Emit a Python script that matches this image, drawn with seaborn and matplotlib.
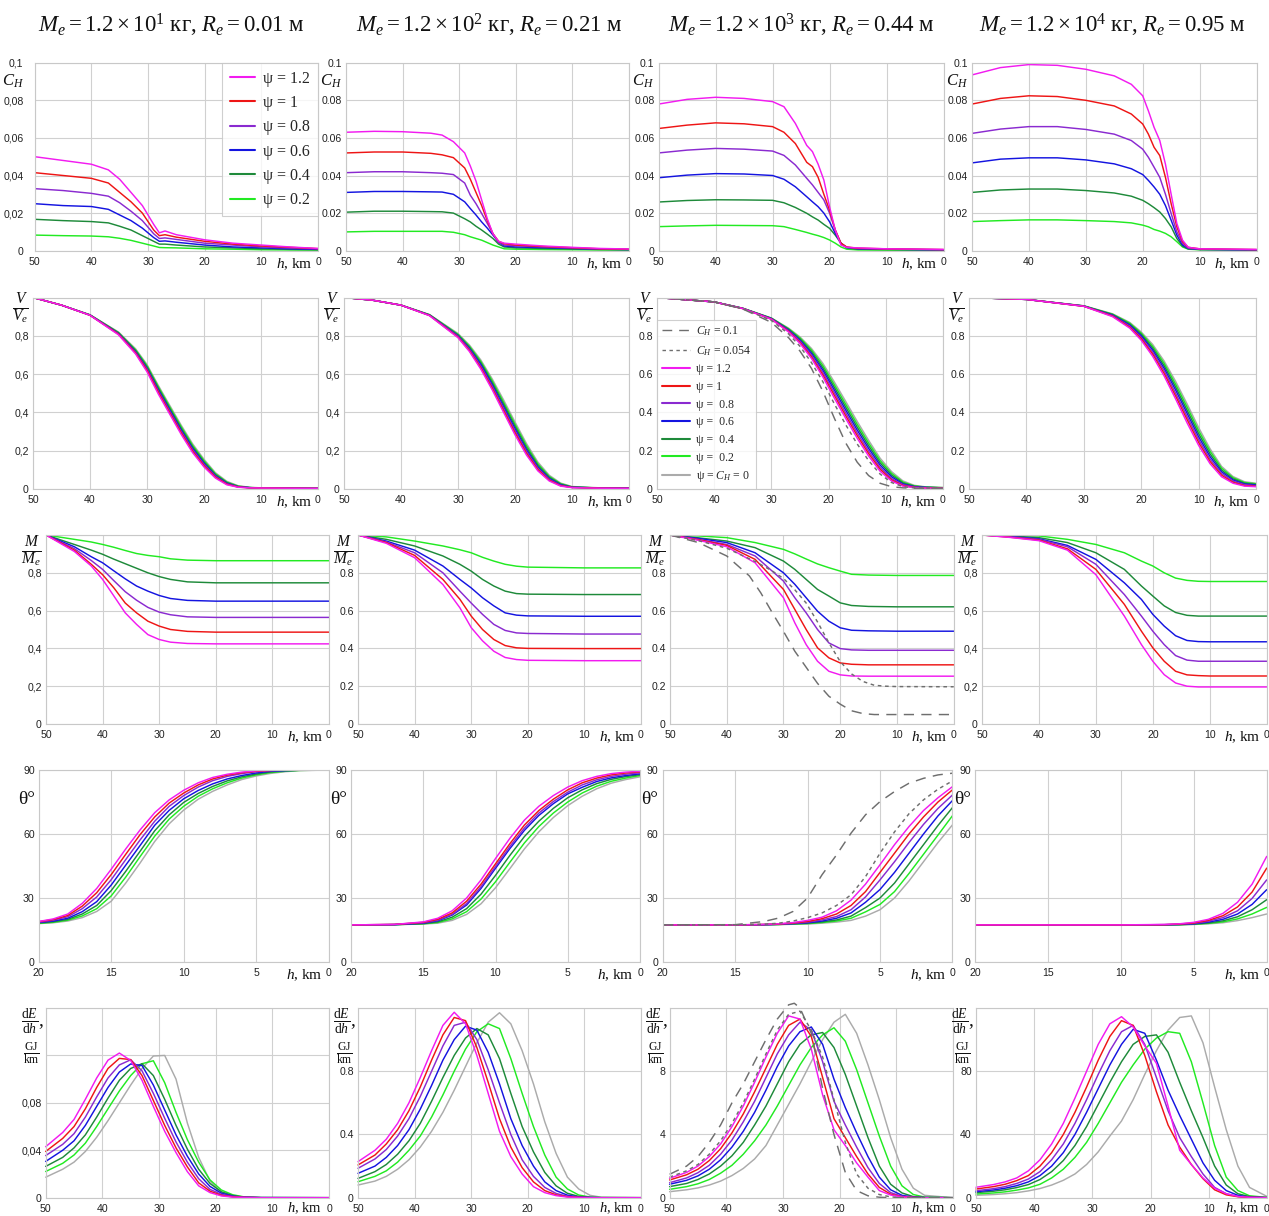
import numpy as np
import pandas as pd
import matplotlib
matplotlib.use("Agg")
import matplotlib.pyplot as plt
from matplotlib.lines import Line2D
import seaborn as sns

sns.set_theme(style="whitegrid")
plt.rcParams.update({
    "font.family": ["Liberation Sans", "DejaVu Sans"],
    "mathtext.fontset": "custom",
    "mathtext.rm": "Liberation Serif",
    "mathtext.it": "Liberation Serif:italic",
    "mathtext.bf": "Liberation Serif:bold",
    "figure.facecolor": "white",
    "axes.facecolor": "white",
})

# ---------------- DATA ----------------
CURVES = ["m", "r", "p", "b", "dg", "g"]          # psi = 1.2, 1, 0.8, 0.6, 0.4, 0.2
PSI_LABELS = ["1.2", "1", "0.8", "0.6", "0.4", "0.2"]
TITLE_MASS = ["1.2\\times10^{1}", "1.2\\times10^{2}", "1.2\\times10^{3}", "1.2\\times10^{4}"]
TITLE_R = ["0.01", "0.21", "0.44", "0.95"]

# Row 1: C_H
H_CH1 = [50, 45, 40, 37, 35, 33, 31, 29, 28, 27, 25, 20, 15, 10, 5, 0]
CH1 = [
    [0.050, 0.048, 0.046, 0.043, 0.038, 0.031, 0.024, 0.014, 0.0095, 0.0105, 0.0085, 0.0058, 0.004, 0.003, 0.002, 0.0012],
    [0.0415, 0.040, 0.0385, 0.036, 0.031, 0.026, 0.020, 0.011, 0.008, 0.0085, 0.0072, 0.005, 0.0035, 0.0025, 0.0018, 0.0011],
    [0.033, 0.032, 0.0305, 0.029, 0.0255, 0.021, 0.016, 0.009, 0.0065, 0.0068, 0.006, 0.004, 0.003, 0.002, 0.0014, 0.001],
    [0.025, 0.024, 0.0235, 0.022, 0.019, 0.016, 0.012, 0.007, 0.005, 0.0052, 0.0045, 0.003, 0.002, 0.0015, 0.001, 0.0007],
    [0.0167, 0.016, 0.0155, 0.0148, 0.013, 0.011, 0.008, 0.005, 0.0035, 0.0035, 0.003, 0.002, 0.0015, 0.001, 0.0007, 0.0005],
    [0.0083, 0.008, 0.0078, 0.0074, 0.0066, 0.0055, 0.004, 0.0025, 0.0017, 0.0016, 0.0015, 0.001, 0.0008, 0.0005, 0.0004, 0.0003],
]
H_CH2 = [50, 45, 40, 35, 33, 31, 29, 28, 27, 26, 25, 24, 23, 22, 20, 15, 10, 5, 0]
CH2 = [
    [0.063, 0.0635, 0.0633, 0.0625, 0.0615, 0.058, 0.052, 0.045, 0.037, 0.027, 0.017, 0.009, 0.005, 0.004, 0.0035, 0.0025, 0.0018, 0.0012, 0.0009],
    [0.052, 0.0525, 0.0525, 0.0518, 0.051, 0.0495, 0.044, 0.038, 0.031, 0.024, 0.016, 0.009, 0.005, 0.0037, 0.003, 0.0022, 0.0016, 0.001, 0.0008],
    [0.0415, 0.042, 0.042, 0.0415, 0.0412, 0.0405, 0.036, 0.0295, 0.025, 0.0198, 0.0145, 0.009, 0.0045, 0.003, 0.0026, 0.002, 0.0014, 0.0009, 0.0007],
    [0.031, 0.0315, 0.0315, 0.0313, 0.0312, 0.030, 0.026, 0.0224, 0.019, 0.0153, 0.012, 0.0083, 0.0045, 0.0025, 0.002, 0.0016, 0.0012, 0.0008, 0.0006],
    [0.0205, 0.021, 0.021, 0.0208, 0.0207, 0.020, 0.017, 0.0153, 0.013, 0.011, 0.0088, 0.0065, 0.0035, 0.002, 0.0015, 0.0012, 0.0009, 0.0006, 0.0005],
    [0.010, 0.0103, 0.0103, 0.0103, 0.0103, 0.0098, 0.0085, 0.0074, 0.0065, 0.0056, 0.0043, 0.003, 0.002, 0.001, 0.0008, 0.0006, 0.0005, 0.0004, 0.0003],
]
H_CH3 = [50, 45, 40, 35, 30, 28, 26, 24, 23, 22, 21, 20, 19, 18, 17, 15, 10, 0]
CH3 = [
    [0.078, 0.0805, 0.0816, 0.081, 0.0793, 0.0766, 0.0677, 0.056, 0.0527, 0.046, 0.0376, 0.0234, 0.011, 0.003, 0.0018, 0.0015, 0.001, 0.0007],
    [0.065, 0.0668, 0.068, 0.0675, 0.066, 0.063, 0.057, 0.047, 0.0447, 0.039, 0.030, 0.0216, 0.011, 0.004, 0.002, 0.0013, 0.001, 0.0006],
    [0.052, 0.0535, 0.0544, 0.054, 0.053, 0.0507, 0.0456, 0.0385, 0.035, 0.031, 0.027, 0.020, 0.011, 0.004, 0.0018, 0.0012, 0.0009, 0.0005],
    [0.0388, 0.0402, 0.041, 0.0408, 0.040, 0.038, 0.034, 0.0287, 0.026, 0.0234, 0.020, 0.0154, 0.0092, 0.004, 0.0017, 0.001, 0.0008, 0.0004],
    [0.0259, 0.0267, 0.0271, 0.027, 0.0268, 0.0255, 0.023, 0.0199, 0.018, 0.0163, 0.014, 0.0119, 0.0083, 0.004, 0.0015, 0.0008, 0.0006, 0.0003],
    [0.0128, 0.0132, 0.0135, 0.0134, 0.0133, 0.0128, 0.0113, 0.0097, 0.0088, 0.008, 0.007, 0.0057, 0.004, 0.002, 0.0008, 0.0004, 0.0003, 0.0002],
]
H_CH4 = [50, 45, 40, 35, 30, 25, 22, 20, 19, 18, 17, 16, 15, 14, 13, 12, 10, 0]
CH4 = [
    [0.0935, 0.0974, 0.099, 0.0986, 0.0965, 0.093, 0.0885, 0.0824, 0.0744, 0.0656, 0.0586, 0.046, 0.030, 0.0145, 0.0056, 0.0018, 0.001, 0.0007],
    [0.078, 0.081, 0.0824, 0.082, 0.080, 0.077, 0.0727, 0.0674, 0.062, 0.055, 0.0506, 0.039, 0.025, 0.0127, 0.0048, 0.0018, 0.001, 0.0006],
    [0.0624, 0.0647, 0.066, 0.066, 0.0645, 0.062, 0.0586, 0.054, 0.0497, 0.0444, 0.039, 0.030, 0.0198, 0.010, 0.0039, 0.0014, 0.0008, 0.0005],
    [0.0467, 0.0487, 0.0494, 0.0494, 0.0483, 0.0462, 0.0436, 0.0405, 0.0374, 0.0339, 0.030, 0.024, 0.0162, 0.0083, 0.003, 0.0012, 0.0007, 0.0004],
    [0.031, 0.0323, 0.0328, 0.0328, 0.032, 0.0307, 0.029, 0.0268, 0.025, 0.0229, 0.0206, 0.0171, 0.0127, 0.0065, 0.0025, 0.001, 0.0006, 0.0003],
    [0.0155, 0.016, 0.0164, 0.0164, 0.016, 0.0155, 0.0148, 0.0136, 0.0127, 0.0113, 0.0104, 0.0092, 0.0074, 0.0048, 0.002, 0.0008, 0.0005, 0.0003],
]

# Row 2: V/Ve  (psi curves + gray psi=0)
H_V1 = [50, 45, 40, 35, 32, 30, 28, 26, 24, 22, 20, 18, 16, 14, 12, 10, 5, 0]
V1 = [
    [1.0, 0.96, 0.907, 0.805, 0.705, 0.612, 0.495, 0.39, 0.285, 0.19, 0.115, 0.057, 0.022, 0.009, 0.006, 0.005, 0.004, 0.003],
    [1.0, 0.96, 0.907, 0.808, 0.71, 0.62, 0.505, 0.398, 0.294, 0.198, 0.122, 0.062, 0.025, 0.01, 0.006, 0.005, 0.004, 0.003],
    [1.0, 0.96, 0.908, 0.81, 0.713, 0.625, 0.51, 0.405, 0.3, 0.205, 0.128, 0.066, 0.027, 0.011, 0.007, 0.005, 0.004, 0.003],
    [1.0, 0.96, 0.908, 0.812, 0.717, 0.63, 0.517, 0.412, 0.308, 0.212, 0.134, 0.07, 0.03, 0.012, 0.007, 0.005, 0.004, 0.003],
    [1.0, 0.96, 0.909, 0.815, 0.722, 0.637, 0.525, 0.42, 0.316, 0.22, 0.141, 0.075, 0.033, 0.013, 0.007, 0.005, 0.004, 0.003],
    [1.0, 0.96, 0.909, 0.817, 0.727, 0.644, 0.533, 0.428, 0.325, 0.228, 0.148, 0.08, 0.036, 0.015, 0.008, 0.005, 0.004, 0.003],
    [1.0, 0.96, 0.91, 0.82, 0.732, 0.65, 0.54, 0.436, 0.333, 0.236, 0.155, 0.085, 0.04, 0.017, 0.009, 0.006, 0.004, 0.003],
]
H_V2 = [50, 45, 40, 35, 30, 28, 26, 24, 22, 20, 18, 16, 14, 12, 10, 5, 0]
V2 = [
    [1.0, 0.986, 0.96, 0.905, 0.79, 0.718, 0.626, 0.518, 0.4, 0.283, 0.178, 0.095, 0.042, 0.015, 0.007, 0.004, 0.003],
    [1.0, 0.986, 0.96, 0.906, 0.793, 0.723, 0.633, 0.527, 0.41, 0.294, 0.187, 0.102, 0.046, 0.017, 0.008, 0.004, 0.003],
    [1.0, 0.986, 0.96, 0.907, 0.797, 0.729, 0.641, 0.536, 0.42, 0.304, 0.196, 0.108, 0.05, 0.019, 0.008, 0.005, 0.004],
    [1.0, 0.986, 0.96, 0.908, 0.8, 0.734, 0.65, 0.545, 0.43, 0.315, 0.205, 0.115, 0.055, 0.022, 0.009, 0.005, 0.004],
    [1.0, 0.986, 0.96, 0.909, 0.804, 0.74, 0.658, 0.555, 0.442, 0.327, 0.216, 0.124, 0.061, 0.025, 0.01, 0.005, 0.004],
    [1.0, 0.986, 0.96, 0.91, 0.808, 0.746, 0.666, 0.565, 0.453, 0.338, 0.227, 0.132, 0.066, 0.028, 0.011, 0.005, 0.004],
    [1.0, 0.986, 0.961, 0.911, 0.812, 0.752, 0.674, 0.575, 0.465, 0.35, 0.238, 0.141, 0.072, 0.031, 0.013, 0.006, 0.005],
]
H_V3 = [50, 40, 35, 30, 27, 25, 23, 21, 19, 17, 15, 13, 11, 9, 7, 5, 3, 0]
V3 = [
    [1.0, 0.977, 0.942, 0.886, 0.82, 0.76, 0.682, 0.585, 0.475, 0.368, 0.265, 0.172, 0.093, 0.042, 0.015, 0.007, 0.005, 0.004],
    [1.0, 0.977, 0.942, 0.887, 0.823, 0.765, 0.69, 0.596, 0.489, 0.382, 0.279, 0.185, 0.103, 0.048, 0.018, 0.008, 0.006, 0.005],
    [1.0, 0.977, 0.943, 0.888, 0.826, 0.771, 0.699, 0.608, 0.503, 0.397, 0.293, 0.198, 0.113, 0.055, 0.022, 0.01, 0.007, 0.005],
    [1.0, 0.977, 0.943, 0.89, 0.83, 0.777, 0.708, 0.62, 0.517, 0.412, 0.308, 0.212, 0.125, 0.064, 0.026, 0.012, 0.008, 0.006],
    [1.0, 0.977, 0.943, 0.891, 0.834, 0.783, 0.717, 0.632, 0.531, 0.427, 0.323, 0.226, 0.137, 0.073, 0.031, 0.014, 0.009, 0.006],
    [1.0, 0.977, 0.944, 0.892, 0.837, 0.789, 0.726, 0.644, 0.545, 0.442, 0.338, 0.24, 0.149, 0.082, 0.036, 0.016, 0.01, 0.007],
    [1.0, 0.977, 0.944, 0.893, 0.84, 0.794, 0.734, 0.656, 0.559, 0.457, 0.353, 0.254, 0.161, 0.091, 0.042, 0.019, 0.011, 0.008],
]
V3_CH01 = [1.0, 0.977, 0.94, 0.87, 0.79, 0.72, 0.63, 0.51, 0.37, 0.24, 0.14, 0.07, 0.03, 0.012, 0.006, 0.004, 0.004, 0.004]
V3_CH054 = [1.0, 0.977, 0.941, 0.88, 0.81, 0.745, 0.66, 0.56, 0.445, 0.335, 0.235, 0.148, 0.078, 0.034, 0.012, 0.006, 0.005, 0.004]
H_V4 = [50, 40, 30, 25, 22, 20, 18, 16, 14, 12, 10, 8, 6, 4, 2, 0]
V4 = [
    [1.0, 0.99, 0.954, 0.9, 0.84, 0.777, 0.693, 0.59, 0.47, 0.345, 0.228, 0.132, 0.064, 0.03, 0.015, 0.012],
    [1.0, 0.99, 0.954, 0.903, 0.845, 0.785, 0.704, 0.603, 0.485, 0.362, 0.243, 0.144, 0.072, 0.035, 0.018, 0.014],
    [1.0, 0.99, 0.955, 0.905, 0.85, 0.792, 0.714, 0.617, 0.5, 0.378, 0.258, 0.156, 0.081, 0.041, 0.022, 0.017],
    [1.0, 0.99, 0.955, 0.908, 0.856, 0.8, 0.725, 0.63, 0.517, 0.395, 0.273, 0.169, 0.09, 0.047, 0.026, 0.021],
    [1.0, 0.99, 0.956, 0.911, 0.861, 0.807, 0.735, 0.643, 0.532, 0.411, 0.289, 0.183, 0.099, 0.053, 0.03, 0.024],
    [1.0, 0.99, 0.956, 0.913, 0.866, 0.814, 0.745, 0.656, 0.547, 0.428, 0.305, 0.197, 0.109, 0.059, 0.034, 0.027],
    [1.0, 0.99, 0.957, 0.915, 0.87, 0.82, 0.755, 0.668, 0.562, 0.444, 0.321, 0.21, 0.118, 0.065, 0.038, 0.03],
]

# Row 3: M/Me
H_M1 = [50, 45, 42, 40, 38, 36, 34, 32, 30, 28, 25, 20, 10, 0]
M1 = [
    [1, 0.913, 0.836, 0.765, 0.677, 0.588, 0.527, 0.473, 0.447, 0.433, 0.426, 0.424, 0.424, 0.424],
    [1, 0.92, 0.845, 0.79, 0.72, 0.64, 0.588, 0.544, 0.518, 0.5, 0.49, 0.486, 0.486, 0.486],
    [1, 0.928, 0.865, 0.818, 0.758, 0.7, 0.655, 0.617, 0.592, 0.578, 0.567, 0.564, 0.564, 0.564],
    [1, 0.938, 0.885, 0.853, 0.81, 0.768, 0.73, 0.703, 0.68, 0.664, 0.654, 0.65, 0.65, 0.65],
    [1, 0.95, 0.92, 0.898, 0.872, 0.848, 0.824, 0.8, 0.78, 0.765, 0.752, 0.747, 0.747, 0.747],
    [1, 0.977, 0.963, 0.95, 0.935, 0.918, 0.902, 0.892, 0.885, 0.874, 0.867, 0.864, 0.864, 0.864],
]
H_M2 = [50, 45, 40, 35, 32, 30, 28, 26, 24, 22, 20, 10, 0]
M2 = [
    [1, 0.956, 0.88, 0.738, 0.615, 0.51, 0.44, 0.385, 0.352, 0.341, 0.337, 0.335, 0.335],
    [1, 0.96, 0.892, 0.765, 0.66, 0.571, 0.5, 0.447, 0.415, 0.403, 0.4, 0.399, 0.399],
    [1, 0.963, 0.906, 0.8, 0.703, 0.64, 0.58, 0.527, 0.495, 0.482, 0.479, 0.476, 0.476],
    [1, 0.968, 0.92, 0.836, 0.765, 0.72, 0.668, 0.625, 0.588, 0.576, 0.572, 0.57, 0.57],
    [1, 0.977, 0.942, 0.889, 0.845, 0.809, 0.765, 0.73, 0.703, 0.69, 0.687, 0.685, 0.685],
    [1, 0.99, 0.968, 0.942, 0.922, 0.906, 0.882, 0.862, 0.845, 0.835, 0.83, 0.826, 0.826],
]
H_M3 = [50, 45, 40, 35, 30, 28, 26, 24, 22, 20, 18, 15, 10, 0]
M3 = [
    [1, 0.972, 0.938, 0.853, 0.668, 0.535, 0.42, 0.332, 0.279, 0.26, 0.254, 0.253, 0.253, 0.253],
    [1, 0.975, 0.945, 0.871, 0.712, 0.606, 0.5, 0.403, 0.35, 0.323, 0.316, 0.313, 0.313, 0.313],
    [1, 0.977, 0.95, 0.889, 0.756, 0.668, 0.588, 0.5, 0.429, 0.399, 0.392, 0.39, 0.39, 0.39],
    [1, 0.982, 0.96, 0.906, 0.8, 0.739, 0.668, 0.597, 0.544, 0.509, 0.496, 0.493, 0.491, 0.491],
    [1, 0.985, 0.968, 0.933, 0.862, 0.818, 0.765, 0.712, 0.677, 0.641, 0.627, 0.622, 0.62, 0.62],
    [1, 0.995, 0.986, 0.96, 0.924, 0.9, 0.873, 0.847, 0.827, 0.809, 0.792, 0.788, 0.786, 0.786],
]
H_M3_CH054 = [50, 45, 40, 35, 32, 30, 28, 26, 24, 22, 20, 18, 16, 14, 12, 10, 0]
M3_CH054 = [1, 0.97, 0.93, 0.86, 0.81, 0.77, 0.71, 0.64, 0.54, 0.43, 0.33, 0.265, 0.225, 0.205, 0.2, 0.198, 0.197]
H_M3_CH01 = [50, 45, 40, 36, 34, 32, 30, 28, 26, 24, 22, 20, 18, 16, 14, 10, 0]
M3_CH01 = [1, 0.96, 0.889, 0.783, 0.694, 0.59, 0.49, 0.385, 0.3, 0.215, 0.147, 0.105, 0.07, 0.055, 0.05, 0.05, 0.05]
H_M4 = [50, 45, 40, 35, 30, 25, 22, 20, 18, 16, 14, 12, 10, 0]
M4 = [
    [1, 0.987, 0.97, 0.92, 0.79, 0.571, 0.42, 0.332, 0.261, 0.217, 0.2, 0.196, 0.196, 0.196],
    [1, 0.988, 0.973, 0.927, 0.818, 0.633, 0.491, 0.403, 0.332, 0.279, 0.26, 0.256, 0.254, 0.254],
    [1, 0.99, 0.977, 0.938, 0.845, 0.685, 0.571, 0.491, 0.42, 0.362, 0.338, 0.332, 0.332, 0.332],
    [1, 0.992, 0.98, 0.945, 0.871, 0.747, 0.659, 0.58, 0.518, 0.467, 0.442, 0.436, 0.435, 0.435],
    [1, 0.995, 0.986, 0.96, 0.906, 0.818, 0.73, 0.677, 0.625, 0.59, 0.575, 0.571, 0.571, 0.571],
    [1, 0.999, 0.995, 0.977, 0.95, 0.906, 0.862, 0.836, 0.8, 0.772, 0.76, 0.755, 0.754, 0.754],
]

# Row 4: theta (deg), h 20..0
H_T1 = [20, 19, 18, 17, 16, 15, 14, 13, 12, 11, 10, 9, 8, 7, 6, 5, 4, 3, 2, 0]
T1 = [
    [19.0, 20.2, 22.5, 27.5, 34.5, 43.5, 53, 62, 70, 76, 80.5, 84, 86.5, 88, 89, 89.6, 89.9, 90, 90, 90],
    [18.9, 19.9, 21.8, 26.2, 32.5, 41, 50.5, 59.8, 68, 74.5, 79.2, 83, 85.8, 87.6, 88.7, 89.4, 89.8, 90, 90, 90],
    [18.7, 19.6, 21.2, 25, 30.5, 38.6, 48, 57.3, 66, 73, 78, 82, 85, 87, 88.3, 89.2, 89.7, 89.9, 90, 90],
    [18.5, 19.2, 20.5, 23.6, 28.3, 36.1, 45.4, 54.7, 64.1, 71.1, 76.5, 80.4, 83.5, 85.8, 87.4, 88.6, 89.4, 89.7, 89.9, 90],
    [18.3, 18.9, 20, 22.5, 26.5, 33.5, 42.5, 52, 61.5, 69, 74.8, 79, 82.3, 84.9, 86.8, 88.1, 89.1, 89.6, 89.9, 90],
    [18.1, 18.6, 19.6, 21.6, 25, 31, 39.8, 49.5, 59, 67, 73, 77.7, 81.2, 84, 86.2, 87.7, 88.8, 89.4, 89.8, 90],
    [18, 18.4, 19.2, 20.8, 23.7, 28.5, 37, 46.5, 56.5, 64.8, 71.2, 76.3, 80, 83, 85.5, 87.2, 88.4, 89.2, 89.7, 90],
]
H_T2 = [20, 17, 15, 14, 13, 12, 11, 10, 9, 8, 7, 6, 5, 4, 3, 2, 1, 0]
T2 = [
    [17.4, 17.6, 18.8, 20.5, 24, 30, 38.5, 48.5, 58, 66.5, 73, 78, 82, 85, 87, 88.3, 89, 89.4],
    [17.4, 17.6, 18.6, 20, 23, 28.5, 36.5, 46, 55.5, 64.2, 71, 76.3, 80.7, 84, 86.2, 87.7, 88.6, 89.1],
    [17.4, 17.6, 18.4, 19.6, 22.3, 27.4, 35.3, 44.8, 54.2, 62.8, 69.8, 75.2, 79.6, 83, 85.4, 87, 88, 88.7],
    [17.4, 17.5, 18.2, 19.3, 22, 26.7, 34.5, 43.9, 53.2, 61.7, 68.7, 74.2, 78.8, 81.9, 84.6, 86.3, 87.4, 88.2],
    [17.4, 17.5, 18, 18.8, 21, 25, 31.8, 40.6, 50, 58.8, 66, 72, 77, 80.7, 83.6, 85.6, 86.9, 87.8],
    [17.4, 17.5, 17.9, 18.5, 20.2, 23.6, 29.5, 37.6, 46.8, 55.8, 63.5, 69.8, 75, 79.2, 82.4, 84.7, 86.2, 87.4],
    [17.4, 17.5, 17.8, 18.2, 19.5, 22.3, 27.3, 34.8, 43.8, 53, 61, 67.7, 73.3, 77.7, 81.2, 83.8, 85.5, 86.8],
]
H_T3 = [20, 15, 13, 12, 11, 10, 9, 8, 7, 6, 5, 4, 3, 2, 1, 0]
T3 = [
    [17.4, 17.4, 17.6, 17.9, 18.5, 19.5, 21, 24, 29, 36.5, 45.6, 55, 63.5, 71, 77, 82.2],
    [17.4, 17.4, 17.6, 17.8, 18.3, 19, 20.3, 22.5, 26.5, 33, 42, 51, 60, 68, 75, 80.7],
    [17.4, 17.4, 17.5, 17.7, 18.1, 18.7, 19.7, 21.3, 24.5, 30.5, 38.5, 47, 56, 64.5, 72, 78.3],
    [17.4, 17.4, 17.5, 17.7, 18, 18.4, 19.2, 20.5, 23, 28, 34, 42, 51, 60, 68.5, 75.7],
    [17.4, 17.4, 17.5, 17.6, 17.9, 18.2, 18.8, 19.7, 21.5, 25.5, 30, 37, 46, 55, 64, 72.4],
    [17.4, 17.4, 17.5, 17.6, 17.8, 18, 18.5, 19.2, 20.5, 23.5, 27, 33, 41.5, 50.5, 59.5, 68.6],
    [17.4, 17.4, 17.4, 17.5, 17.7, 17.8, 18.2, 18.7, 19.5, 21.5, 24.5, 30, 38, 47, 56, 64.3],
]
T3_CH01 = [17.4, 17.5, 19, 20.6, 23.7, 30, 40.9, 50.2, 60.4, 69, 75.2, 79.9, 83.8, 86.1, 87.7, 88.5]
T3_CH054 = [17.4, 17.4, 17.7, 18.2, 19.2, 20.8, 23, 26.5, 31.5, 40, 51, 61, 69.5, 76, 81, 84.9]
H_T4 = [20, 10, 7, 6, 5, 4, 3, 2, 1, 0]
T4 = [
    [17.4, 17.4, 17.6, 17.9, 18.6, 20, 22.8, 28, 36.5, 49.5],
    [17.4, 17.4, 17.5, 17.8, 18.3, 19.5, 21.7, 25.8, 32.8, 44],
    [17.4, 17.4, 17.5, 17.7, 18.1, 19.1, 20.8, 24, 29.8, 38.5],
    [17.4, 17.4, 17.5, 17.6, 17.9, 18.7, 20, 22.5, 27, 33.9],
    [17.4, 17.4, 17.4, 17.5, 17.8, 18.3, 19.3, 21.2, 24.5, 29.2],
    [17.4, 17.4, 17.4, 17.5, 17.7, 18.1, 18.8, 20.2, 22.5, 25.6],
    [17.3, 17.2, 17.3, 17.4, 17.6, 17.9, 18.4, 19.4, 20.8, 22.5],
]

# Row 5: dE/dh
H_E1 = [50, 47, 45, 43, 41, 39, 37, 35, 33, 31, 29, 27, 25, 23, 21, 19, 17, 15, 12, 0]
E1 = [
    [0.043, 0.055, 0.066, 0.083, 0.101, 0.116, 0.122, 0.1157, 0.099, 0.077, 0.056, 0.038, 0.022, 0.01, 0.0043, 0.0015, 0.0005, 0.0002, 0, 0],
    [0.039, 0.05, 0.06, 0.075, 0.093, 0.109, 0.1175, 0.1165, 0.103, 0.082, 0.061, 0.042, 0.026, 0.0125, 0.0055, 0.002, 0.0007, 0.0002, 0, 0],
    [0.0355, 0.045, 0.054, 0.068, 0.085, 0.101, 0.112, 0.1163, 0.107, 0.088, 0.067, 0.047, 0.03, 0.016, 0.007, 0.0028, 0.001, 0.0003, 0, 0],
    [0.0306, 0.04, 0.048, 0.061, 0.077, 0.093, 0.106, 0.1128, 0.1115, 0.095, 0.074, 0.053, 0.035, 0.02, 0.0095, 0.0038, 0.0013, 0.0004, 0.0001, 0],
    [0.0264, 0.034, 0.042, 0.053, 0.068, 0.084, 0.099, 0.109, 0.113, 0.103, 0.083, 0.061, 0.041, 0.024, 0.012, 0.005, 0.0018, 0.0005, 0.0001, 0],
    [0.0221, 0.029, 0.036, 0.046, 0.06, 0.075, 0.09, 0.103, 0.113, 0.1155, 0.097, 0.072, 0.049, 0.03, 0.015, 0.0065, 0.0025, 0.0007, 0.0001, 0],
    [0.0173, 0.024, 0.03, 0.039, 0.051, 0.065, 0.08, 0.095, 0.109, 0.1195, 0.12, 0.1, 0.063, 0.034, 0.014, 0.0045, 0.0012, 0.0003, 0, 0],
]
H_E2 = [50, 47, 45, 43, 41, 39, 37, 35, 33, 31, 29, 27, 25, 23, 21, 19, 17, 15, 13, 11, 9, 7, 0]
E2 = [
    [0.228, 0.3, 0.37, 0.47, 0.6, 0.76, 0.93, 1.09, 1.173, 1.1, 0.9, 0.66, 0.42, 0.26, 0.15, 0.07, 0.032, 0.013, 0.004, 0.001, 0, 0, 0],
    [0.207, 0.27, 0.34, 0.43, 0.55, 0.7, 0.87, 1.03, 1.14, 1.12, 0.95, 0.73, 0.5, 0.32, 0.19, 0.1, 0.045, 0.018, 0.006, 0.002, 0, 0, 0],
    [0.186, 0.245, 0.305, 0.39, 0.5, 0.64, 0.8, 0.96, 1.09, 1.11, 1.0, 0.81, 0.6, 0.4, 0.24, 0.135, 0.065, 0.027, 0.009, 0.003, 0.001, 0, 0],
    [0.154, 0.2, 0.255, 0.33, 0.43, 0.56, 0.71, 0.87, 1.0, 1.085, 1.06, 0.92, 0.72, 0.5, 0.33, 0.2, 0.1, 0.045, 0.016, 0.005, 0.001, 0, 0],
    [0.122, 0.165, 0.21, 0.275, 0.36, 0.47, 0.61, 0.76, 0.9, 1.01, 1.07, 1.03, 0.88, 0.66, 0.45, 0.29, 0.16, 0.075, 0.028, 0.008, 0.002, 0, 0],
    [0.101, 0.135, 0.17, 0.225, 0.3, 0.39, 0.51, 0.65, 0.8, 0.94, 1.05, 1.1, 1.07, 0.88, 0.66, 0.45, 0.27, 0.13, 0.055, 0.017, 0.004, 0.001, 0],
    [0.08, 0.105, 0.135, 0.18, 0.24, 0.32, 0.42, 0.54, 0.68, 0.83, 0.98, 1.11, 1.17, 1.1, 0.93, 0.72, 0.48, 0.28, 0.13, 0.055, 0.015, 0.003, 0],
]
H_E3 = [50, 47, 45, 43, 41, 39, 37, 35, 33, 31, 29, 27, 25, 23, 21, 19, 17, 15, 13, 11, 9, 7, 5, 0]
E3 = [
    [1.23, 1.6, 2.0, 2.6, 3.4, 4.5, 5.8, 7.3, 8.9, 10.4, 11.5, 11.3, 9.4, 6.5, 4.3, 3.3, 2.2, 1.3, 0.45, 0.17, 0.05, 0.01, 0, 0],
    [1.12, 1.45, 1.8, 2.35, 3.1, 4.1, 5.3, 6.7, 8.2, 9.7, 10.9, 11.3, 10.2, 7.6, 5.0, 3.8, 2.6, 1.5, 0.65, 0.22, 0.06, 0.015, 0, 0],
    [0.95, 1.25, 1.58, 2.05, 2.75, 3.65, 4.8, 6.1, 7.6, 9.1, 10.3, 11.1, 10.6, 8.6, 6.1, 4.6, 3.2, 1.9, 0.9, 0.32, 0.09, 0.02, 0, 0],
    [0.85, 1.1, 1.38, 1.8, 2.4, 3.2, 4.2, 5.4, 6.8, 8.3, 9.6, 10.5, 10.8, 9.7, 7.5, 5.7, 4.1, 2.6, 1.3, 0.5, 0.15, 0.04, 0.01, 0],
    [0.7, 0.9, 1.15, 1.5, 2.0, 2.65, 3.5, 4.6, 5.8, 7.2, 8.6, 9.7, 10.3, 10.45, 9.5, 7.8, 5.8, 3.8, 2.0, 0.85, 0.3, 0.07, 0.01, 0],
    [0.53, 0.7, 0.88, 1.15, 1.55, 2.05, 2.75, 3.6, 4.6, 5.8, 7.1, 8.4, 9.5, 10.3, 10.75, 9.9, 8.1, 6.0, 3.9, 2.0, 0.75, 0.2, 0.04, 0],
    [0.38, 0.5, 0.62, 0.8, 1.05, 1.4, 1.85, 2.45, 3.3, 4.6, 5.9, 7.2, 8.6, 10.0, 11.1, 11.6, 10.4, 8.4, 6.2, 3.8, 1.8, 0.6, 0.15, 0],
]
H_E3_CH01 = [50, 47, 45, 43, 41, 39, 37, 35, 33, 31, 29, 28, 27, 25, 23, 21, 19, 17, 15, 13, 11, 0]
E3_CH01 = [1.48, 2.0, 2.6, 3.5, 4.6, 6.0, 7.2, 8.6, 10.0, 11.3, 12.2, 12.3, 12.0, 10.4, 6.9, 4.0, 1.6, 0.45, 0.12, 0.03, 0, 0]
H_E3_CH054 = [50, 47, 45, 43, 41, 39, 37, 35, 33, 31, 29, 27, 25, 23, 21, 19, 17, 15, 13, 11, 9, 0]
E3_CH054 = [1.3, 1.7, 2.1, 2.75, 3.6, 4.7, 6.0, 7.5, 9.1, 10.6, 11.6, 11.8, 10.6, 8.9, 6.2, 3.5, 1.5, 0.6, 0.2, 0.05, 0.01, 0]
H_E4 = [50, 47, 45, 43, 41, 39, 37, 35, 33, 31, 29, 27, 25, 23, 21, 19, 17, 15, 13, 11, 9, 7, 5, 3, 0]
E4 = [
    [6.6, 8.3, 10, 12.5, 17, 24, 34, 47, 63, 80, 97, 110, 114.5, 108, 96, 85, 58, 30, 21, 12.5, 6, 2.5, 0.8, 0.2, 0],
    [5.5, 7, 8.5, 10.8, 14, 20, 28.5, 40, 54, 70, 87, 102, 112, 109, 90, 67, 46, 32, 21, 12, 5, 1.8, 0.6, 0.2, 0],
    [4.4, 5.7, 7, 9, 11.8, 16.5, 24, 34, 47, 62, 78, 93, 105, 109, 97, 76, 55, 38, 26, 15, 6.5, 2.5, 0.8, 0.2, 0],
    [3.8, 4.9, 6, 7.6, 10, 14, 20, 28.5, 40, 54, 69, 84, 97, 106.5, 104, 87, 68, 52, 37, 22, 11, 4.5, 1.5, 0.4, 0],
    [3.2, 4.1, 5, 6.4, 8.3, 11.5, 16.5, 23.5, 33, 45, 59, 73, 86, 97, 102, 103, 92, 73, 55, 38, 20, 8, 2.5, 0.7, 0.1],
    [2.3, 3, 3.7, 4.8, 6.2, 8.5, 12.5, 18, 25.5, 35, 47, 60, 73, 84, 94, 101, 105, 104, 86, 60, 33, 13, 4.5, 1.2, 0.2],
    [1.5, 2, 2.5, 3.2, 4.3, 5.8, 8, 11, 15, 21, 29, 39, 48.5, 62, 78, 93, 106, 114, 115, 98, 70, 43, 20, 6.5, 0.8],
]

# ---------------- STYLE ----------------
COL = {"m": "#f21bf0", "r": "#ee1515", "p": "#8a2ad0", "b": "#1414e0", "dg": "#1e8a3a",
       "g": "#22ea22", "gr": "#ababab", "d1": "#6e6e6e", "d2": "#6e6e6e"}
DASH = {"m": "", "r": "", "p": "", "b": "", "dg": "", "g": "", "gr": "",
        "d1": (7, 5), "d2": (2.5, 2.5)}
SERIF = "Liberation Serif"
W, Hpx = 1269, 1216

fig = plt.figure(figsize=(W / 100, Hpx / 100), dpi=100)

ROWS_Y = [(62.7, 250.7), (297.5, 489), (535, 724), (770, 962), (1008, 1197.7)]
COLS_X = [
    [(34.7, 318), (346, 628.6), (658.6, 943.5), (972, 1256.5)],
    [(33, 318), (344, 629), (657, 943), (969, 1256)],
    [(46, 329), (358, 641), (670, 953.7), (982, 1266.7)],
    [(38.8, 328.6), (351, 640), (662.6, 952.5), (975, 1266.7)],
    [(45.7, 329), (358, 641), (669.6, 953), (976, 1267)],
]


def make_ax(r, c):
    x0, x1 = COLS_X[r][c]
    y0, y1 = ROWS_Y[r]
    return fig.add_axes([x0 / W, 1 - y1 / Hpx, (x1 - x0) / W, (y1 - y0) / Hpx])


def draw(ax, series):
    rows = []
    for name, hs, vs in series:
        assert len(hs) == len(vs), (name, len(hs), len(vs))
        for hh, vv in zip(hs, vs):
            rows.append((name, hh, vv))
    df = pd.DataFrame(rows, columns=["curve", "h", "v"])
    names = [s[0] for s in series]
    sns.lineplot(data=df, x="h", y="v", hue="curve", style="curve",
                 hue_order=names, style_order=names,
                 palette={n: COL[n] for n in names},
                 dashes={n: DASH[n] for n in names},
                 sort=False, estimator=None, legend=False, linewidth=1.05, ax=ax)


def style(ax, xlim, xt, ylim, yt, ylabels, ypad=3, hy=-0.028, hsize=11):
    ax.set_xlim(*xlim)
    ax.set_ylim(*ylim)
    ax.set_xticks(xt)
    ax.set_xticklabels([str(v) for v in xt])
    ax.set_yticks(yt)
    ax.set_yticklabels(ylabels)
    ax.set_xlabel("")
    ax.set_ylabel("")
    ax.tick_params(axis="both", length=0, labelsize=7.6, colors="#222222")
    ax.tick_params(axis="x", pad=4.5)
    ax.tick_params(axis="y", pad=ypad)
    ax.grid(True, color="#d0d0d0", linewidth=0.8)
    for sp in ax.spines.values():
        sp.set_color("#c8c8c8")
        sp.set_linewidth(0.8)
    ax.text(0.915, hy, r"$h$, km", transform=ax.transAxes, ha="center", va="top",
            family=SERIF, fontsize=hsize, color="#111111")


def ylab(ax, text, yfrac, size=11, dx=-3):
    ax.annotate(text, xy=(0, yfrac), xycoords="axes fraction", xytext=(dx, 0),
                textcoords="offset points", ha="right", va="center",
                family=SERIF, fontsize=size, color="#111111", annotation_clip=False)


def fmt(vals, comma, top_blank=False):
    out = []
    for v in vals:
        s = ("%g" % v)
        if comma:
            s = s.replace(".", ",")
        out.append(s)
    if top_blank:
        out[-1] = ""
    return out


def psi_series(H, Y):
    return [(n, H, y) for n, y in zip(CURVES + ["gr"], Y)]


# ---- Row 1
CH_DATA = [(H_CH1, CH1), (H_CH2, CH2), (H_CH3, CH3), (H_CH4, CH4)]
for c, (H, Y) in enumerate(CH_DATA):
    ax = make_ax(0, c)
    series = [(n, H, y) for n, y in zip(CURVES, Y)][::-1]
    draw(ax, series)
    yt = [0, 0.02, 0.04, 0.06, 0.08, 0.1]
    style(ax, (50, 0), [50, 40, 30, 20, 10, 0], (0, 0.1), yt, fmt(yt, c == 0),
          ypad=8 if c == 0 else 3)
    ylab(ax, r"$C_H$", 0.903, 12, dx=-8 if c == 0 else -3)
    if c == 0:
        handles = [Line2D([], [], color=COL[n], lw=1.5) for n in CURVES]
        labels = ["ψ = " + s for s in PSI_LABELS]
        lg = ax.legend(handles, labels, loc="upper right", bbox_to_anchor=(1, 1),
                       borderaxespad=0, frameon=True, fancybox=False,
                       prop={"family": SERIF, "size": 11.5}, handlelength=1.6,
                       handletextpad=0.5, labelspacing=0.52, borderpad=0.5)
        lg.get_frame().set_edgecolor("#c4c4c4")
        lg.get_frame().set_linewidth(0.8)

# ---- Row 2
V_DATA = [(H_V1, V1), (H_V2, V2), (H_V3, V3), (H_V4, V4)]
for c, (H, Y) in enumerate(V_DATA):
    ax = make_ax(1, c)
    series = psi_series(H, Y)[::-1]
    if c == 2:
        series = series + [("d2", H, V3_CH054), ("d1", H, V3_CH01)]
    draw(ax, series)
    yt = [0, 0.2, 0.4, 0.6, 0.8, 1.0]
    style(ax, (50, 0), [50, 40, 30, 20, 10, 0], (0, 1.0), yt, fmt(yt, c < 2, True))
    ylab(ax, r"$\frac{V}{V_e}$", 0.935, 16)
    if c == 2:
        handles = [Line2D([], [], color=COL["d1"], lw=1.0, dashes=(7, 5)),
                   Line2D([], [], color=COL["d2"], lw=1.0, dashes=(2.5, 2.5))]
        handles += [Line2D([], [], color=COL[n], lw=1.5) for n in CURVES + ["gr"]]
        labels = [r"$C_H$ = 0.1", r"$C_H$ = 0.054", "ψ = 1.2", "ψ = 1", "ψ =  0.8",
                  "ψ =  0.6", "ψ =  0.4", "ψ =  0.2", r"ψ = $C_H$ = 0"]
        lg = ax.legend(handles, labels, loc="lower left", bbox_to_anchor=(0, 0),
                       borderaxespad=0, frameon=True, fancybox=False,
                       prop={"family": SERIF, "size": 8.5}, handlelength=2.4,
                       handletextpad=0.5, labelspacing=0.48, borderpad=0.4)
        lg.get_frame().set_edgecolor("#c4c4c4")
        lg.get_frame().set_linewidth(0.8)

# ---- Row 3
M_DATA = [(H_M1, M1), (H_M2, M2), (H_M3, M3), (H_M4, M4)]
for c, (H, Y) in enumerate(M_DATA):
    ax = make_ax(2, c)
    series = [(n, H, y) for n, y in zip(CURVES, Y)][::-1]
    if c == 2:
        series = series + [("d2", H_M3_CH054, M3_CH054), ("d1", H_M3_CH01, M3_CH01)]
    draw(ax, series)
    yt = [0, 0.2, 0.4, 0.6, 0.8, 1.0]
    style(ax, (50, 0), [50, 40, 30, 20, 10, 0], (0, 1.0), yt, fmt(yt, c in (0, 3), True))
    ylab(ax, r"$\frac{M}{M_e}$", 0.91, 16)

# ---- Row 4
T_DATA = [(H_T1, T1), (H_T2, T2), (H_T3, T3), (H_T4, T4)]
for c, (H, Y) in enumerate(T_DATA):
    ax = make_ax(3, c)
    series = psi_series(H, Y)[::-1]
    if c == 2:
        series = series + [("d2", H, T3_CH054), ("d1", H, T3_CH01)]
    draw(ax, series)
    yt = [0, 30, 60, 90]
    style(ax, (20, 0), [20, 15, 10, 5, 0], (0, 90), yt, [str(v) for v in yt])
    ylab(ax, "θ°", 0.845, 14)

# ---- Row 5
E_DATA = [(H_E1, E1), (H_E2, E2), (H_E3, E3), (H_E4, E4)]
E_TICKS = [[0, 0.04, 0.08, 0.12, 0.16], [0, 0.4, 0.8, 1.2], [0, 4, 8, 12], [0, 40, 80, 120]]
for c, (H, Y) in enumerate(E_DATA):
    ax = make_ax(4, c)
    series = psi_series(H, Y)[::-1]
    if c == 2:
        series = series + [("d2", H_E3_CH054, E3_CH054), ("d1", H_E3_CH01, E3_CH01)]
    draw(ax, series)
    yt = E_TICKS[c]
    labels = fmt(yt, c == 0)
    if c == 0:
        labels[-1] = ""
        labels[-2] = ""
    else:
        labels[-1] = ""
    style(ax, (50, 0), [50, 40, 30, 20, 10, 0], (0, yt[-1]), yt, labels,
          hy=-0.012, hsize=10.5)
    for ln in ax.lines:
        ln.set_clip_on(False)
    ylab(ax, r"$\frac{\mathrm{d}E}{\mathrm{d}h}$,", 0.925, 14, dx=-1)
    ylab(ax, r"$\frac{\mathrm{GJ}}{\mathrm{km}}$", 0.765, 12, dx=-4)

# ---- Titles
TITLE_X = [171, 489.5, 801, 1112.6]
for c in range(4):
    t = r"$M_e = %s$ кг, $R_e = %s$ м" % (TITLE_MASS[c], TITLE_R[c])
    fig.text(TITLE_X[c] / W, 1 - 25 / Hpx, t, ha="center", va="center",
             family=SERIF, fontsize=16.5, color="#111111")

fig.savefig("out.png", dpi=100, facecolor="white")
